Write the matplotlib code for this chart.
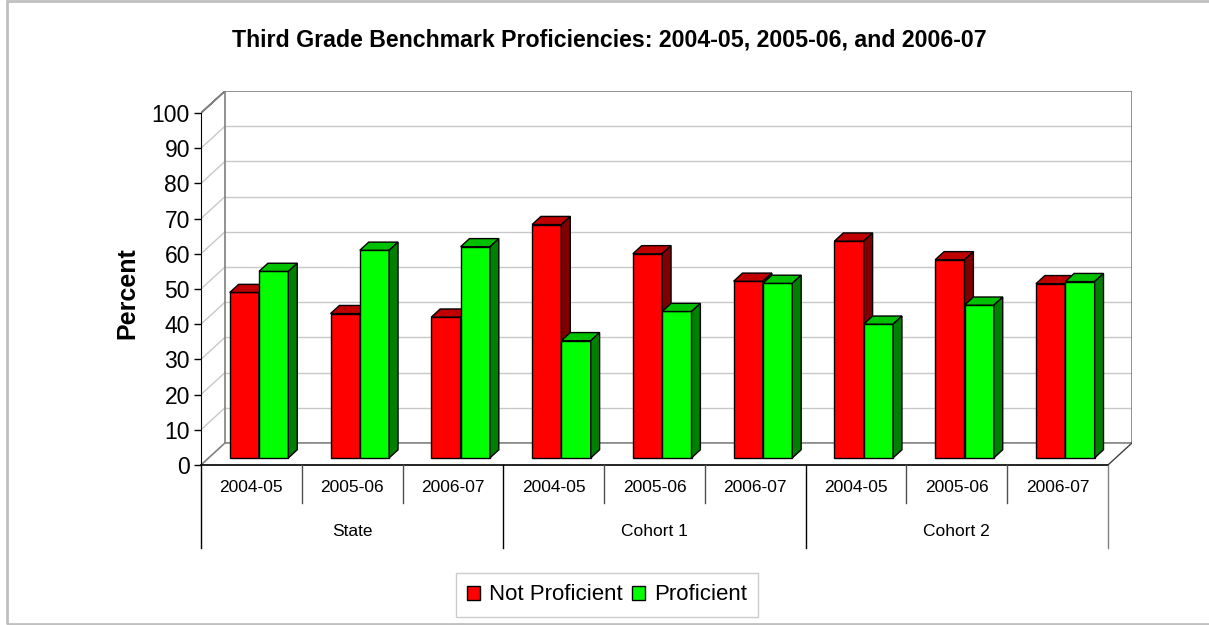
import matplotlib
matplotlib.use("Agg")
import matplotlib.pyplot as plt
from matplotlib.patches import Patch, Polygon, Rectangle

plt.rcParams["font.family"] = ["Liberation Sans", "DejaVu Sans"]

groups = ["State", "Cohort 1", "Cohort 2"]
years = ["2004-05", "2005-06", "2006-07"]
not_proficient = [47, 41, 40, 66.3, 58, 50.2, 61.6, 56.3, 49.5]
proficient = [53, 59, 60, 33.3, 41.6, 49.6, 38, 43.4, 50.1]
series = [("Not Proficient", not_proficient, ("#ff0000", "#c00000", "#800000")),
          ("Proficient", proficient, ("#00ff00", "#00c000", "#008000"))]

# fake 3d depth (in data units)
DX, DY = 0.238, 6.25          # floor depth
FRONT, BACK = 0.32, 0.69      # bar plane, as fraction of floor depth
BAR_W = 0.291

W, H = 1209, 625
fig = plt.figure(figsize=(W / 100, H / 100), dpi=100)
ax = fig.add_axes([201 / W, (H - 548) / H, 931 / W, 457 / H])
ncat = len(not_proficient)
ax.set_xlim(0, ncat + DX)
ax.set_ylim(-23.6, 100 + DY)
for s in ["top", "right", "bottom"]:
    ax.spines[s].set_visible(False)
ax.spines["left"].set_bounds(0, 100)
ax.spines["left"].set_color("black")
ax.set_xticks([])
ax.set_yticks(range(0, 101, 10))
ax.tick_params(axis="y", labelsize=16.5, length=5, width=1, pad=3)
ax.patch.set_visible(False)

grid_c, wall_c = "#c8c8c8", "#808080"
for v in range(10, 100, 10):
    ax.plot([DX, ncat + DX], [v + DY, v + DY], color=grid_c, lw=1, zorder=1)
    ax.plot([0, DX], [v, v + DY], color=grid_c, lw=1, zorder=1)
# walls
ax.plot([0, DX, ncat + DX, ncat + DX, DX, DX, 0],
        [100, 100 + DY, 100 + DY, DY, DY, 100 + DY, 100],
        color=wall_c, lw=1.2, zorder=1)
ax.plot([0, DX], [0, DY], color=wall_c, lw=1.2, zorder=1)
ax.plot([ncat, ncat + DX], [0, DY], color="#404040", lw=1, zorder=1)
ax.plot([0, ncat], [0, 0], color="black", lw=1.2, zorder=2, clip_on=False)

# bars
fx, fy = FRONT * DX, FRONT * DY
bx, by = (BACK - FRONT) * DX, (BACK - FRONT) * DY
for k, (name, vals, (c_front, c_top, c_side)) in enumerate(series):
    for i, v in enumerate(vals):
        x0 = i + 0.5 - BAR_W + k * BAR_W + fx
        x1 = x0 + BAR_W
        y0, y1 = fy, fy + v
        ax.add_patch(Rectangle((x0, y0), BAR_W, v, facecolor=c_front,
                               edgecolor="black", lw=1, zorder=3 + k))
        ax.add_patch(Polygon([(x0, y1), (x1, y1), (x1 + bx, y1 + by), (x0 + bx, y1 + by)],
                             facecolor=c_top, edgecolor="black", lw=1, zorder=3 + k))
        ax.add_patch(Polygon([(x1, y0), (x1, y1), (x1 + bx, y1 + by), (x1 + bx, y0 + by)],
                             facecolor=c_side, edgecolor="black", lw=1, zorder=3 + k))

# category table
for i in range(ncat + 1):
    if i % len(years) == 0:
        ax.plot([i, i], [0, -23.6], color="black" if i < ncat else wall_c,
                lw=1, clip_on=False)
    else:
        ax.plot([i, i], [0, -10.8], color="#505050", lw=1, clip_on=False)
for i in range(ncat):
    ax.text(i + 0.5, -6.5, years[i % len(years)], ha="center", va="center", fontsize=12.5)
for g, name in enumerate(groups):
    ax.text(g * len(years) + len(years) / 2, -19, name, ha="center", va="center", fontsize=12.5)

fig.text(609 / W, (H - 40) / H,
         "Third Grade Benchmark Proficiencies: 2004-05, 2005-06, and 2006-07",
         ha="center", va="center", fontsize=16.7, fontweight="bold")
fig.text(127 / W, (H - 293) / H, "Percent", rotation=90, ha="center", va="center",
         fontsize=18, fontweight="bold")

handles = [Patch(facecolor=c[0], edgecolor="black", label=n) for n, _, c in series]
leg = fig.legend(handles=handles, loc="center", bbox_to_anchor=(607 / W, (H - 595) / H),
                 ncol=2, fontsize=16, frameon=True, fancybox=False, handlelength=0.6,
                 handleheight=0.6, handletextpad=0.4, columnspacing=0.4,
                 borderpad=0.5, borderaxespad=0)
leg.get_frame().set_edgecolor("#c0c0c0")
leg.get_frame().set_linewidth(1)

fig.add_artist(Rectangle((6.5 / W, 1 / H), 1.1, 1 - 2 / H, transform=fig.transFigure,
                         fill=False, edgecolor="#c0c0c0", lw=2))

fig.savefig("out.png", dpi=100)
